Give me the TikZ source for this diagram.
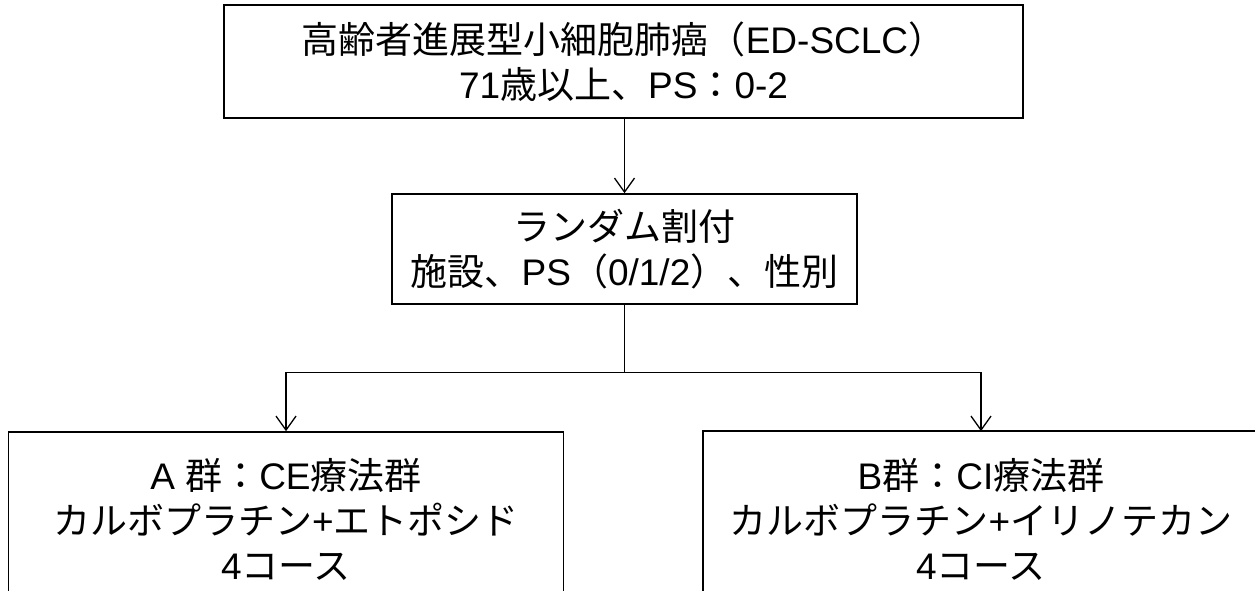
\documentclass[tikz,border=0pt]{standalone}
\usepackage{fontspec}
\setmainfont{Liberation Sans}
\newfontfamily\cjk{Noto Sans CJK JP}
\usetikzlibrary{arrows.meta}
\begin{document}
\begin{tikzpicture}[x=1pt,y=-1pt,
  box/.style={draw, line width=1.6pt, align=center, inner sep=0pt,
    font=\fontsize{37pt}{45pt}\selectfont},
  conn/.style={line width=1.3pt},
  arr/.style={conn, -{Straight Barb[length=14pt,width=20pt,line width=1.3pt]}}]
\useasboundingbox (0,0) rectangle (1255,591);
\clip (0,0) rectangle (1255,591);
\node[box, minimum width=799pt, minimum height=113pt] (top) at (623.5,61.5)
  {{\cjk 高齢者進展型小細胞肺癌（}ED-SCLC{\cjk ）}\\71{\cjk 歳以上、}PS{\cjk ：}0-2};
\node[box, minimum width=465pt, minimum height=110pt] (mid) at (624.5,249)
  {{\cjk ランダム割付}\\{\cjk 施設、}PS{\cjk （}0/1/2{\cjk ）、性別}};
\node[box, minimum width=555pt, minimum height=175pt] (A) at (286,519.5)
  {A {\cjk 群：}CE{\cjk 療法群}\\{\cjk カルボプラチン}+{\cjk エトポシド}\\4{\cjk コース}};
\node[box, minimum width=554pt, minimum height=175pt, draw=none] (Btext) at (981,519.5)
  {B{\cjk 群：}CI{\cjk 療法群}\\{\cjk カルボプラチン}+{\cjk イリノテカン}\\4{\cjk コース}};
\draw[line width=1.6pt] (Btext.south west) -- (Btext.north west) -- ++(600,0);
\draw[arr] (top.south -| mid.north) -- (mid.north);
\draw[conn] (mid.south) -- ++(0,68) coordinate (split);
\draw[arr] (split) -| (A.north);
\draw[arr] (split) -| (Btext.north);
\end{tikzpicture}
\end{document}
